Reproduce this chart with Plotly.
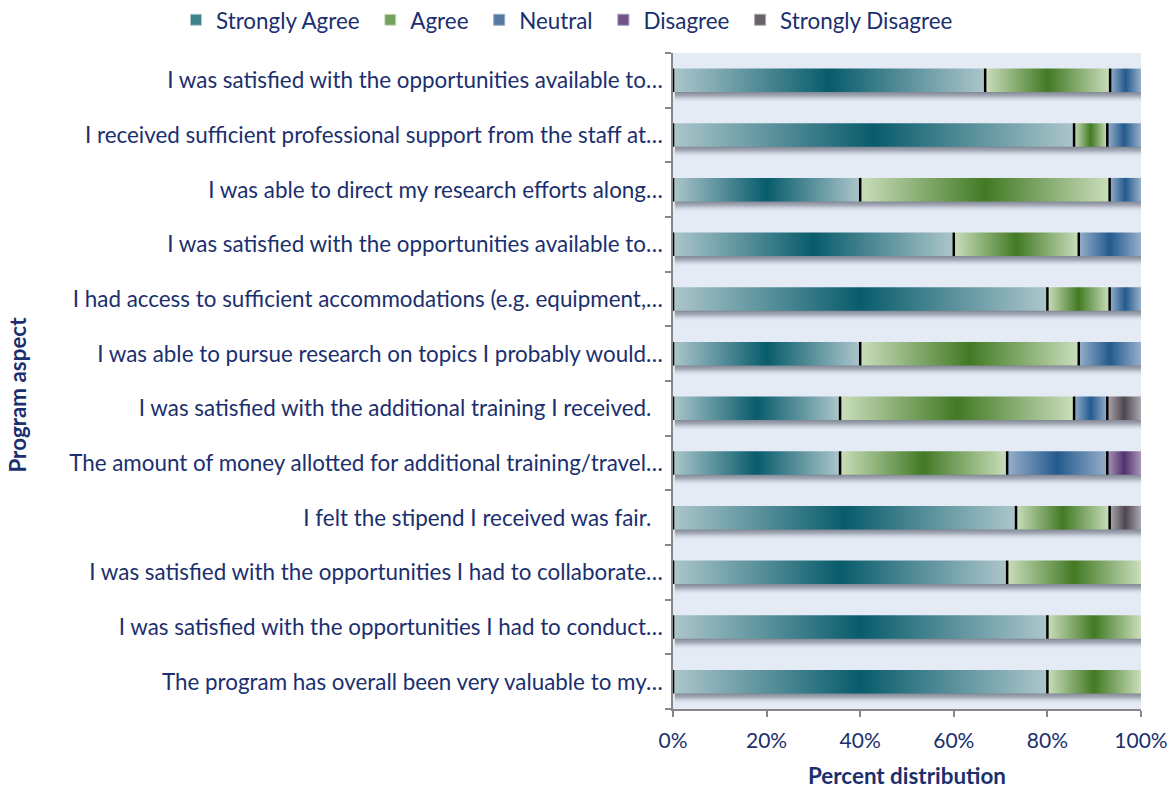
import plotly.graph_objects as go

# Survey statements, top to bottom
aspects = [
    "I was satisfied with the opportunities available to…",
    "I received sufficient professional support from the staff at…",
    "I was able to direct my research efforts along…",
    "I was satisfied with the opportunities available to…",
    "I had access to sufficient accommodations (e.g. equipment,…",
    "I was able to pursue research on topics I probably would…",
    "I was satisfied with the additional training I received.\u00a0\u00a0",
    "The amount of money allotted for additional training/travel…",
    "I felt the stipend I received was fair.\u00a0\u00a0",
    "I was satisfied with the opportunities I had to collaborate…",
    "I was satisfied with the opportunities I had to conduct…",
    "The program has overall been very valuable to my…",
]

# Percent of responses per answer
strongly_agree = [66.7, 85.7, 40.0, 60.0, 80.0, 40.0, 35.7, 35.7, 73.3, 71.4, 80.0, 80.0]
agree = [26.7, 7.1, 53.3, 26.7, 13.3, 46.7, 50.0, 35.7, 20.0, 28.6, 20.0, 20.0]
neutral = [6.6, 7.2, 6.7, 13.3, 6.7, 13.3, 7.1, 21.4, 0.0, 0.0, 0.0, 0.0]
disagree = [0.0, 0.0, 0.0, 0.0, 0.0, 0.0, 0.0, 7.2, 0.0, 0.0, 0.0, 0.0]
strongly_disagree = [0.0, 0.0, 0.0, 0.0, 0.0, 0.0, 7.2, 0.0, 6.7, 0.0, 0.0, 0.0]

answers = ["Strongly Agree", "Agree", "Neutral", "Disagree", "Strongly Disagree"]
series = [strongly_agree, agree, neutral, disagree, strongly_disagree]

x_ticks = [0, 20, 40, 60, 80, 100]
x_tick_labels = ["0%", "20%", "40%", "60%", "80%", "100%"]

# (edge, centre, swatch) colours of each answer
palette = {
    "Strongly Agree": ("rgb(172,198,203)", "rgb(8,92,108)", "rgb(62,130,140)"),
    "Agree": ("rgb(202,222,188)", "rgb(66,122,36)", "rgb(118,160,96)"),
    "Neutral": ("rgb(150,175,202)", "rgb(36,90,142)", "rgb(84,122,164)"),
    "Disagree": ("rgb(168,150,182)", "rgb(82,48,112)", "rgb(112,84,138)"),
    "Strongly Disagree": ("rgb(172,168,174)", "rgb(78,70,80)", "rgb(104,98,106)"),
}

NAVY = "#1b2f6e"
AXIS = "#868686"
FONT = "Lato, Open Sans, sans-serif"
FS = 22.4
HALF = 0.215      # half bar thickness in row units
SHADOW = 0.20     # shadow depth below each bar

positions = list(range(len(aspects)))
fig = go.Figure()

# soft shadow under each full bar, darkest right under the bar
for i in positions:
    total = sum(s[i] for s in series)
    y_top = i + HALF - 0.03
    y_bot = i + HALF + SHADOW
    fig.add_trace(go.Scatter(
        x=[0.4, total + 0.5, total + 0.5, 0.4, 0.4],
        y=[y_top, y_top, y_bot, y_bot, y_top],
        mode="lines", fill="toself", line=dict(width=0),
        fillgradient=dict(type="vertical", start=y_top, stop=y_bot,
                          colorscale=[[0, "rgba(105,110,122,0.95)"],
                                      [0.45, "rgba(140,146,160,0.7)"],
                                      [1, "rgba(229,235,245,0)"]]),
        showlegend=False, hoverinfo="skip",
    ))

# gradient-filled stacked segments
edges_x, edges_y = [], []
for k, (name, vals) in enumerate(zip(answers, series)):
    edge, centre, _ = palette[name]
    for i in positions:
        v = vals[i]
        if v <= 0:
            continue
        x0 = sum(s[i] for s in series[:k])
        x1 = x0 + v
        fig.add_trace(go.Scatter(
            x=[x0, x1, x1, x0, x0],
            y=[i - HALF, i - HALF, i + HALF, i + HALF, i - HALF],
            mode="lines", fill="toself", line=dict(width=0),
            fillgradient=dict(type="horizontal",
                              colorscale=[[0, edge], [0.5, centre], [1, edge]]),
            name=name, legendgroup=name, showlegend=False,
            hovertemplate=f"{name}: {v:.1f}%<extra></extra>",
        ))
        edges_x += [x0, x0, None]
        edges_y += [i - HALF, i + HALF, None]

# dark separators at each segment's left edge
fig.add_trace(go.Scatter(
    x=edges_x, y=edges_y, mode="lines",
    line=dict(color="black", width=2.5),
    showlegend=False, hoverinfo="skip",
))

# legend swatches
for n, name in enumerate(answers):
    edge, centre, swatch = palette[name]
    pad = "" if n == len(answers) - 1 else "\u00a0"
    fig.add_trace(go.Scatter(
        x=[None], y=[None], mode="markers", name=name + pad, legendgroup=name,
        marker=dict(symbol="square", size=11, color=swatch,
                    line=dict(width=1, color=edge)),
    ))

fig.update_layout(
    width=1175, height=789,
    margin=dict(l=673, r=34, t=53, b=80, autoexpand=False),
    paper_bgcolor="white",
    plot_bgcolor="#e5ebf5",
    font=dict(family=FONT, size=FS, color=NAVY),
    showlegend=True,
    legend=dict(orientation="h", x=-1.062, xanchor="left",
                y=1.05, yanchor="middle",
                font=dict(family=FONT, size=FS, color=NAVY),
                itemwidth=30, tracegroupgap=0, bgcolor="rgba(0,0,0,0)"),
    xaxis=dict(
        range=[0, 100], tickvals=x_ticks, ticktext=x_tick_labels,
        ticks="outside", ticklen=6, tickcolor=AXIS, tickwidth=1.5,
        showline=True, linecolor=AXIS, linewidth=1.5,
        showgrid=False, zeroline=False, fixedrange=True,
        ticklabelstandoff=6,
        tickfont=dict(size=21, color=NAVY),
        title=dict(text="<b>Percent distribution</b>", standoff=17,
                   font=dict(size=FS, color=NAVY)),
    ),
    yaxis=dict(
        range=[len(aspects) - 0.5, -0.5],
        tickvals=positions, ticktext=aspects,
        ticks="", ticklabelstandoff=4,
        showline=True, linecolor=AXIS, linewidth=1.5,
        showgrid=False, zeroline=False, fixedrange=True,
        tickfont=dict(size=FS, color=NAVY),
        minor=dict(tickvals=[p - 0.5 for p in positions] + [len(aspects) - 0.5],
                   ticks="outside", ticklen=6, tickcolor=AXIS, tickwidth=1.5,
                   showgrid=False),
    ),
    annotations=[dict(
        text="<b>Program aspect</b>", textangle=-90,
        xref="paper", yref="paper", x=-1.40, y=0.479,
        xanchor="center", yanchor="middle", showarrow=False,
        font=dict(family=FONT, size=FS, color=NAVY),
    )],
)

fig.write_html("out.html")
